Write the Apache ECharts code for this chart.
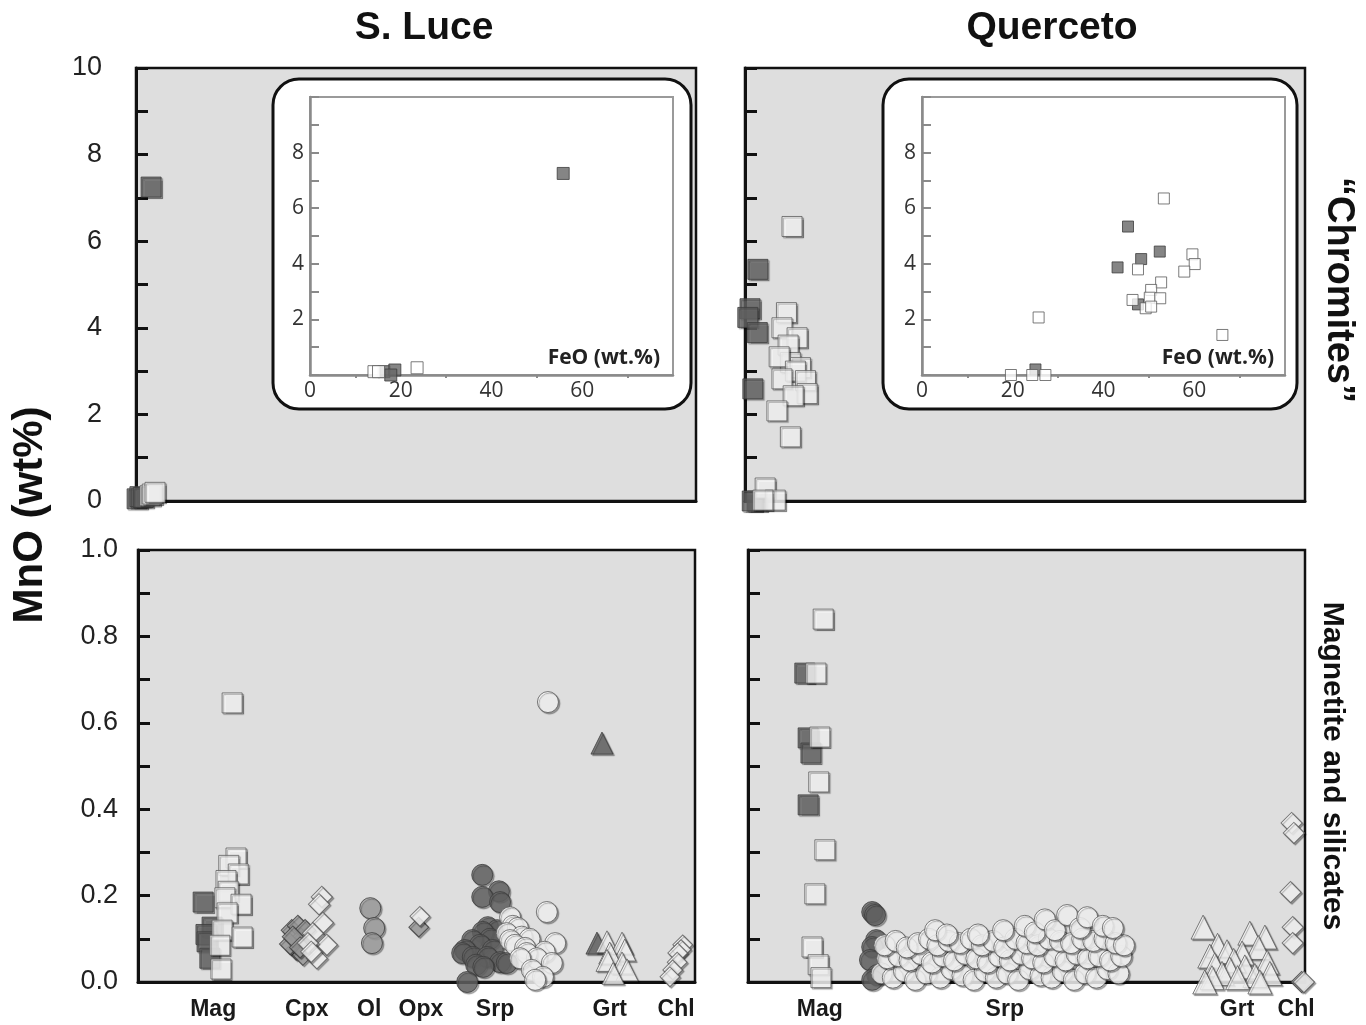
<!DOCTYPE html>
<html>
<head>
<meta charset="utf-8">
<script src="https://cdn.jsdelivr.net/npm/echarts@6/dist/echarts.min.js"></script>
<style>
  html, body { margin: 0; padding: 0; background: #fff; }
  #main { width: 1366px; height: 1025px; }
</style>
</head>
<body>
<div id="main"></div>
<script>
// category labels on the lower panels (x given in 0-100 panel units)
var catSL = ['Mag', 'Cpx', 'Ol', 'Opx', 'Srp', 'Grt', 'Chl'];
var catPosSL = [13.5, 30.3, 41.5, 50.8, 64.1, 84.7, 96.6];
var catQ = ['Mag', 'Srp', 'Grt', 'Chl'];
var catPosQ = [12.9, 46.1, 87.8, 98.4];

// "Chromites" - S. Luce (MnO wt%)
var chrSLDark = [[2.7, 7.25], [0.2, 0.05], [0.7, 0.1], [1.3, 0.08]];
var chrSLWhite = [[2.5, 0.12], [2.9, 0.16], [3.4, 0.2]];
// "Chromites" - Querceto
var chrQDark = [[2.3, 5.35], [0.9, 4.44], [0.5, 4.24], [2.2, 3.89], [1.4, 2.59], [2.2, 0.0], [1.3, 0.0]];
var chrQWhite = [[8.4, 6.34], [7.4, 4.35], [6.6, 4.0], [9.3, 3.77], [7.7, 3.6], [8.1, 3.2], [6.1, 3.33],
  [9.9, 3.08], [9.0, 3.0], [6.6, 2.82], [10.8, 2.78], [11.1, 2.48], [8.6, 2.43], [5.7, 2.08], [8.1, 1.48],
  [3.6, 0.3], [5.4, 0.02], [3.2, 0.02]];

// insets: FeO vs MnO
var insSLDark = [[55.8, 7.25], [16.3, 0.12], [18.7, 0.18], [17.8, 0.0]];
var insSLWhite = [[14.1, 0.12], [15.1, 0.12], [23.6, 0.26]];
var insQDark = [[45.4, 5.34], [52.4, 4.44], [48.3, 4.17], [43.1, 3.87], [47.6, 2.54], [25.0, 0.2]];
var insQWhite = [[53.3, 6.35], [59.6, 4.34], [60.1, 3.99], [57.8, 3.72], [47.6, 3.80], [52.7, 3.33],
  [50.5, 3.06], [50.2, 2.78], [52.5, 2.76], [46.4, 2.70], [49.3, 2.40], [50.5, 2.46], [66.2, 1.44],
  [25.7, 2.07], [19.6, 0.0], [24.3, 0.0], [27.2, 0.0]];

// magnetite and silicates - S. Luce
var slMagDark = [[11.7, 0.185], [13.3, 0.127], [12.2, 0.11], [12.4, 0.093], [12.9, 0.055]];
var slMagWhite = [[16.9, 0.646], [17.6, 0.287], [16.3, 0.27], [18.0, 0.25], [15.8, 0.235], [16.2, 0.21],
  [15.6, 0.195], [18.5, 0.18], [16.0, 0.16], [15.1, 0.12], [18.7, 0.104], [14.7, 0.085], [14.9, 0.03]];
var slCpxGrey = [[27.6, 0.12], [28.7, 0.13], [29.3, 0.10], [28.4, 0.075], [29.6, 0.063], [27.3, 0.088],
  [30.0, 0.12], [27.8, 0.105], [29.1, 0.08]];
var slCpxWhite = [[33.0, 0.197], [32.5, 0.18], [33.2, 0.137], [31.4, 0.113], [33.9, 0.086], [32.1, 0.055],
  [30.5, 0.09], [31.1, 0.07]];
var slOl = [[41.7, 0.171], [42.4, 0.125], [42.0, 0.09]];
var slOpxGrey = [[50.4, 0.127]];
var slOpxWhite = [[50.6, 0.152]];
var slSrpDark = [[61.8, 0.248], [64.8, 0.21], [61.8, 0.197], [65.0, 0.185], [62.8, 0.127], [64.5, 0.12],
  [61.9, 0.116], [63.2, 0.1], [60.0, 0.097], [61.4, 0.086], [58.7, 0.074], [63.7, 0.074], [58.2, 0.067],
  [60.1, 0.058], [62.7, 0.058], [65.0, 0.046], [66.2, 0.044], [60.7, 0.04], [62.0, 0.035], [59.1, 0.0]];
var slSrpWhite = [[73.6, 0.648], [73.4, 0.162], [66.8, 0.15], [67.3, 0.13], [68.2, 0.125], [66.2, 0.113],
  [68.9, 0.105], [70.3, 0.1], [66.8, 0.097], [74.9, 0.09], [67.7, 0.086], [69.5, 0.079], [73.0, 0.07],
  [69.8, 0.067], [71.6, 0.055], [68.6, 0.055], [74.3, 0.044], [70.7, 0.028], [72.7, 0.012], [71.3, 0.005]];
var slGrtDark = [[83.3, 0.553], [82.4, 0.09]];
var slGrtWhite = [[84.2, 0.093], [86.9, 0.09], [87.4, 0.074], [84.7, 0.067], [84.2, 0.05], [86.9, 0.044],
  [87.8, 0.028], [85.3, 0.02]];
var slChl = [[97.8, 0.086], [97.5, 0.075], [96.9, 0.067], [96.8, 0.046], [96.0, 0.028], [95.5, 0.012]];

// magnetite and silicates - Querceto
var qMagDark = [[10.2, 0.715], [10.8, 0.565], [11.3, 0.53], [10.8, 0.41]];
var qMagWhite = [[13.5, 0.84], [12.2, 0.715], [12.9, 0.567], [12.7, 0.463], [13.8, 0.306], [12.0, 0.204],
  [11.5, 0.081], [12.6, 0.04], [13.1, 0.01]];
var qSrpDark = [[22.3, 0.162], [22.8, 0.155], [23.0, 0.097], [22.3, 0.081], [21.9, 0.051], [23.2, 0.016],
  [22.3, 0.005]];
var qSrpWhite = [
  [24.0, 0.02], [26.0, 0.01], [28.0, 0.025], [30.0, 0.005], [32.0, 0.02], [34.5, 0.01], [36.5, 0.03],
  [38.5, 0.015], [40.5, 0.005], [42.5, 0.025], [44.5, 0.01], [46.5, 0.02], [48.5, 0.005], [50.5, 0.03],
  [52.5, 0.015], [54.5, 0.01], [56.5, 0.025], [58.5, 0.005], [60.5, 0.02], [62.5, 0.01], [64.5, 0.03],
  [66.5, 0.02],
  [25.0, 0.055], [27.0, 0.06], [29.0, 0.05], [31.0, 0.065], [33.0, 0.045], [35.0, 0.06], [37.0, 0.05],
  [39.0, 0.065], [41.0, 0.055], [43.0, 0.045], [45.0, 0.06], [47.0, 0.05], [49.0, 0.065], [51.0, 0.055],
  [53.0, 0.045], [55.0, 0.06], [57.0, 0.05], [59.0, 0.065], [61.0, 0.055], [63.0, 0.06], [65.0, 0.05],
  [67.0, 0.06],
  [24.5, 0.085], [26.5, 0.095], [28.5, 0.08], [30.5, 0.09], [32.5, 0.1], [34.0, 0.085], [36.0, 0.095],
  [38.0, 0.09], [40.0, 0.1], [42.0, 0.085], [44.0, 0.095], [46.0, 0.08], [48.0, 0.1], [50.0, 0.09],
  [52.0, 0.085], [54.0, 0.1], [56.0, 0.095], [58.0, 0.09], [60.0, 0.1], [62.0, 0.095], [64.0, 0.1],
  [66.0, 0.09], [67.5, 0.085],
  [33.6, 0.12], [35.7, 0.11], [41.3, 0.11], [45.8, 0.12], [49.7, 0.13], [51.5, 0.115], [53.3, 0.145],
  [55.1, 0.12], [57.3, 0.155], [59.6, 0.125], [60.9, 0.15], [63.7, 0.13], [65.5, 0.125]];
var qGrt = [[81.7, 0.127], [90.1, 0.113], [92.8, 0.104], [84.3, 0.085], [91.6, 0.08], [86.0, 0.07],
  [88.7, 0.067], [82.9, 0.06], [87.2, 0.05], [93.2, 0.046], [83.8, 0.04], [89.2, 0.035], [86.5, 0.03],
  [85.1, 0.02], [93.7, 0.02], [91.0, 0.015], [87.9, 0.01], [83.3, 0.01], [82.0, 0.0], [91.9, 0.0]];
var qChlGrey = [[99.4, 0.0]];
var qChlWhite = [[97.6, 0.368], [98.0, 0.345], [97.4, 0.208], [97.8, 0.127], [97.8, 0.09], [99.8, 0.0]];

var chart = echarts.init(document.getElementById('main'));

var DARK = '#676767', WHITE = '#ffffff', GREY = '#a2a2a2';
var shadow = { shadowColor: 'rgba(0,0,0,0.4)', shadowOffsetX: 1.5, shadowOffsetY: 1.5, shadowBlur: 1 };

function pts(grid, data, symbol, size, fill, rotate) {
  return {
    type: 'scatter',
    xAxisIndex: grid,
    yAxisIndex: grid,
    data: data,
    symbol: symbol,
    symbolSize: size,
    symbolRotate: rotate || 0,
    clip: false,
    z: grid >= 4 ? 5 : 2,
    silent: true,
    itemStyle: Object.assign({
      color: fill,
      borderColor: fill === WHITE ? '#5a5a5a' : '#3c3c3c',
      borderWidth: 1
    }, grid >= 4 ? {} : shadow)
  };
}

var mainAxisLine = { show: true, onZero: false, lineStyle: { color: '#111', width: 3 } };
var mainTick = { show: true, inside: true, length: 12, lineStyle: { color: '#111', width: 3 } };
var insetLine = { show: true, onZero: false, lineStyle: { color: '#8a8a8a', width: 2.5 } };

function labelFor(names, pos) {
  return function (v) {
    for (var i = 0; i < pos.length; i++) {
      if (Math.abs(pos[i] - v) < 0.01) return names[i];
    }
    return '';
  };
}

function mainX(grid, names, pos) {
  var ax = {
    type: 'value', gridIndex: grid, min: 0, max: 100,
    axisLine: mainAxisLine, axisTick: { show: false }, splitLine: { show: false },
    axisLabel: { show: false }
  };
  if (names) {
    ax.axisLabel = {
      show: true, customValues: pos, formatter: labelFor(names, pos), margin: 16,
      fontFamily: 'Liberation Sans', fontWeight: 'bold', fontSize: 23, color: '#1a1a1a'
    };
  }
  return ax;
}

function mainY(grid, max, step, showLabel, digits) {
  return {
    type: 'value', gridIndex: grid, min: 0, max: max, interval: step,
    axisLine: mainAxisLine, axisTick: mainTick,
    minorTick: { show: true, splitNumber: 2, length: 12, lineStyle: { color: '#111', width: 3 } },
    splitLine: { show: false },
    axisLabel: {
      show: showLabel, margin: digits ? 20 : 34, fontFamily: 'Liberation Sans', fontSize: 27, color: '#222',
      formatter: function (v) { return digits ? v.toFixed(digits) : String(v); }
    }
  };
}

function insetX(grid) {
  return {
    type: 'value', gridIndex: grid, min: 0, max: 80, interval: 20, z: 4,
    axisLine: insetLine,
    axisTick: { show: false },
    minorTick: { show: true, splitNumber: 2, length: 3, lineStyle: { color: '#8a8a8a', width: 2 } },
    splitLine: { show: false },
    axisLabel: {
      margin: 6, fontFamily: 'Open Sans', fontSize: 21, color: '#333',
      formatter: function (v) { return v === 80 ? '' : String(v); }
    }
  };
}

function insetY(grid) {
  return {
    type: 'value', gridIndex: grid, min: 0, max: 10, interval: 2, z: 4,
    axisLine: insetLine,
    axisTick: { show: true, inside: true, length: 9, lineStyle: { color: '#8a8a8a', width: 2 } },
    minorTick: { show: true, splitNumber: 2, length: 9, lineStyle: { color: '#8a8a8a', width: 2 } },
    splitLine: { show: false },
    axisLabel: {
      margin: 6, fontFamily: 'Open Sans', fontSize: 21, color: '#333',
      formatter: function (v) { return (v === 0 || v === 10) ? '' : String(v); }
    }
  };
}

var panel = { show: true, backgroundColor: '#dedede', borderColor: '#111', borderWidth: 2.5, z: 0 };
var insetPanel = { show: true, backgroundColor: '#ffffff', borderColor: '#9a9a9a', borderWidth: 2, z: 2 };

chart.setOption({
  animation: false,
  grid: [
    Object.assign({ left: 136, top: 68, width: 560, height: 433 }, panel),
    Object.assign({ left: 745, top: 68, width: 560, height: 433 }, panel),
    Object.assign({ left: 138, top: 550, width: 557, height: 432 }, panel),
    Object.assign({ left: 748, top: 550, width: 557, height: 432 }, panel),
    Object.assign({ left: 310, top: 97, width: 363, height: 278 }, insetPanel),
    Object.assign({ left: 922, top: 97, width: 363, height: 278 }, insetPanel)
  ],
  xAxis: [
    mainX(0), mainX(1), mainX(2, catSL, catPosSL), mainX(3, catQ, catPosQ),
    insetX(4), insetX(5)
  ],
  yAxis: [
    mainY(0, 10, 2, true, 0), mainY(1, 10, 2, false, 0),
    mainY(2, 1, 0.2, true, 1), mainY(3, 1, 0.2, false, 1),
    insetY(4), insetY(5)
  ],
  graphic: [
    { type: 'rect', z: 1, shape: { x: 273, y: 79, width: 418, height: 330, r: 26 },
      style: { fill: '#fff', stroke: '#111', lineWidth: 3 } },
    { type: 'rect', z: 1, shape: { x: 883, y: 79, width: 414, height: 330, r: 26 },
      style: { fill: '#fff', stroke: '#111', lineWidth: 3 } },
    { type: 'text', z: 10, x: 424, y: 28,
      style: { text: 'S. Luce', font: 'bold 39px "Liberation Sans"', fill: '#111', align: 'center', verticalAlign: 'middle' } },
    { type: 'text', z: 10, x: 1052, y: 28,
      style: { text: 'Querceto', font: 'bold 39px "Liberation Sans"', fill: '#111', align: 'center', verticalAlign: 'middle' } },
    { type: 'text', z: 10, x: 30, y: 515, rotation: Math.PI / 2,
      style: { text: 'MnO (wt%)', font: 'bold 42px "Liberation Sans"', fill: '#111', align: 'center', verticalAlign: 'middle' } },
    { type: 'text', z: 10, x: 1338, y: 290, rotation: -Math.PI / 2,
      style: { text: '\u201cChromites\u201d', font: 'bold 38px "Liberation Sans"', fill: '#111', align: 'center', verticalAlign: 'middle' } },
    { type: 'text', z: 10, x: 1332, y: 766, rotation: -Math.PI / 2,
      style: { text: 'Magnetite and silicates', font: 'bold 30px "Liberation Sans"', fill: '#111', align: 'center', verticalAlign: 'middle' } },
    { type: 'text', z: 10, x: 660, y: 358,
      style: { text: 'FeO (wt.%)', font: 'bold 21px "Open Sans"', fill: '#222', align: 'right', verticalAlign: 'middle' } },
    { type: 'text', z: 10, x: 1274, y: 358,
      style: { text: 'FeO (wt.%)', font: 'bold 21px "Open Sans"', fill: '#222', align: 'right', verticalAlign: 'middle' } }
  ],
  series: [
    pts(0, chrSLDark, 'rect', 20, DARK),
    pts(0, chrSLWhite, 'rect', 20, WHITE),
    pts(1, chrQDark, 'rect', 20, DARK),
    pts(1, chrQWhite, 'rect', 20, WHITE),

    pts(4, insSLDark, 'rect', 12, DARK),
    pts(4, insSLWhite, 'rect', 12, WHITE),
    pts(5, insQDark, 'rect', 11, DARK),
    pts(5, insQWhite, 'rect', 11, WHITE),

    pts(2, slMagDark, 'rect', 20, DARK),
    pts(2, slMagWhite, 'rect', 20, WHITE),
    pts(2, slCpxGrey, 'rect', 15, GREY, 45),
    pts(2, slCpxWhite, 'rect', 15, WHITE, 45),
    pts(2, slOl, 'circle', 21, GREY),
    pts(2, slOpxGrey, 'rect', 14, GREY, 45),
    pts(2, slOpxWhite, 'rect', 14, WHITE, 45),
    pts(2, slSrpDark, 'circle', 21, DARK),
    pts(2, slSrpWhite, 'circle', 21, WHITE),
    pts(2, slGrtDark, 'triangle', 22, DARK),
    pts(2, slGrtWhite, 'triangle', 22, WHITE),
    pts(2, slChl, 'rect', 14, WHITE, 45),

    pts(3, qMagDark, 'rect', 20, DARK),
    pts(3, qMagWhite, 'rect', 20, WHITE),
    pts(3, qSrpDark, 'circle', 21, DARK),
    pts(3, qSrpWhite, 'circle', 21, WHITE),
    pts(3, qGrt, 'triangle', 24, WHITE),
    pts(3, qChlGrey, 'rect', 15, GREY, 45),
    pts(3, qChlWhite, 'rect', 15, WHITE, 45)
  ]
});
</script>
</body>
</html>
